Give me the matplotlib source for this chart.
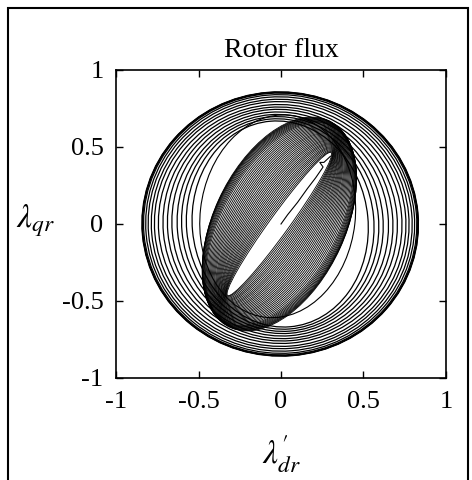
import numpy as np
import matplotlib.pyplot as plt
from matplotlib.patches import Ellipse, Rectangle

plt.rcParams['font.family'] = ['Liberation Serif', 'DejaVu Serif']
plt.rcParams['mathtext.fontset'] = 'stix'

# start-up oscillation: tilted ellipses (semi-axes, tilt in degrees)
band_a = [0.560, 0.565, 0.570, 0.575, 0.580, 0.585, 0.590, 0.595, 0.600, 0.605,
          0.610, 0.615, 0.620, 0.625, 0.630, 0.635, 0.640, 0.645, 0.650, 0.655,
          0.660, 0.665, 0.670, 0.675, 0.680, 0.685, 0.690, 0.695, 0.700, 0.705,
          0.710, 0.713, 0.716, 0.719, 0.722, 0.725, 0.728, 0.731, 0.733, 0.735]
band_b = [0.060, 0.070, 0.080, 0.090, 0.100, 0.110, 0.120, 0.130, 0.140, 0.150,
          0.160, 0.170, 0.180, 0.190, 0.200, 0.210, 0.220, 0.230, 0.240, 0.250,
          0.260, 0.270, 0.280, 0.290, 0.300, 0.310, 0.320, 0.330, 0.340, 0.350,
          0.358, 0.365, 0.372, 0.378, 0.384, 0.389, 0.393, 0.396, 0.398, 0.400]
band_ang = [56.0, 56.0, 56.2, 56.5, 56.8, 57.0, 57.2, 57.5, 57.8, 58.0,
            58.2, 58.5, 58.8, 59.0, 59.3, 59.6, 59.9, 60.2, 60.5, 60.8,
            61.0, 61.3, 61.6, 61.9, 62.2, 62.5, 62.8, 63.1, 63.4, 63.7,
            64.0, 64.3, 64.6, 64.9, 65.2, 65.5, 65.8, 66.1, 66.5, 67.0]
band_cx, band_cy = -0.01, 0.0

# transition loop leaving the oscillation
trans_cx, trans_cy = -0.02, 0.05
trans_rx, trans_ry, trans_ang = 0.47, 0.66, -6

# expanding rings towards steady state (semi-axes along x and y)
ring_rx = [0.838, 0.836, 0.834, 0.828, 0.815, 0.800, 0.781, 0.762, 0.738,
           0.710, 0.683, 0.656, 0.624, 0.597, 0.568, 0.533]
ring_ry = [0.858, 0.856, 0.855, 0.850, 0.840, 0.826, 0.810, 0.795, 0.776,
           0.760, 0.745, 0.728, 0.712, 0.698, 0.684, 0.670]
ring_cx, ring_cy, ring_ang = -0.005, 0.0, 5

# initial flux build-up from the origin
start_x = [0.0, 0.04, 0.10, 0.16, 0.21, 0.255, 0.235, 0.26, 0.30]
start_y = [0.0, 0.06, 0.14, 0.23, 0.30, 0.37, 0.40, 0.40, 0.44]

fig = plt.figure(figsize=(4.72, 4.8), dpi=100)
ax = fig.add_axes([0.2458, 0.2125, 0.6991, 0.6417])

for a, b, ang in zip(band_a, band_b, band_ang):
    ax.add_patch(Ellipse((band_cx, band_cy), 2 * a, 2 * b, angle=ang,
                         fill=False, ec='black', lw=0.6))

ax.add_patch(Ellipse((trans_cx, trans_cy), 2 * trans_rx, 2 * trans_ry,
                     angle=trans_ang, fill=False, ec='black', lw=0.8))

for rx, ry in zip(ring_rx, ring_ry):
    ax.add_patch(Ellipse((ring_cx, ring_cy), 2 * rx, 2 * ry, angle=ring_ang,
                         fill=False, ec='black', lw=0.9))

ax.plot(start_x, start_y, color='black', lw=0.8)

ax.set_xlim(-1, 1)
ax.set_ylim(-1, 1)
ticks = [-1, -0.5, 0, 0.5, 1]
ax.set_xticks(ticks)
ax.set_yticks(ticks)
ax.set_xticklabels(['-1', '-0.5', '0', '0.5', '1'])
ax.set_yticklabels(['-1', '-0.5', '0', '0.5', '1'])
ax.tick_params(direction='in', top=True, right=True, length=5, width=1,
               labelsize=19)
ax.tick_params(axis='x', pad=9)
ax.tick_params(axis='y', pad=9)
for s in ax.spines.values():
    s.set_linewidth(1.2)

ax.set_title('Rotor flux', fontsize=20, pad=9)
ax.set_xlabel(r"$\lambda_{dr}^{\prime}$", fontsize=24)
ax.set_ylabel(r"$\lambda_{qr}$", fontsize=24, rotation=0)
ax.xaxis.set_label_coords(0.5, -0.18)
ax.yaxis.set_label_coords(-0.245, 0.45)

# frame around the whole figure (open at the bottom)
fig.patches.append(Rectangle((8 / 472, -0.1), 460 / 472, 1.1 - 8 / 480,
                             transform=fig.transFigure, fill=False,
                             ec='black', lw=1.5, clip_on=False))

fig.savefig('out.png', dpi=100)
